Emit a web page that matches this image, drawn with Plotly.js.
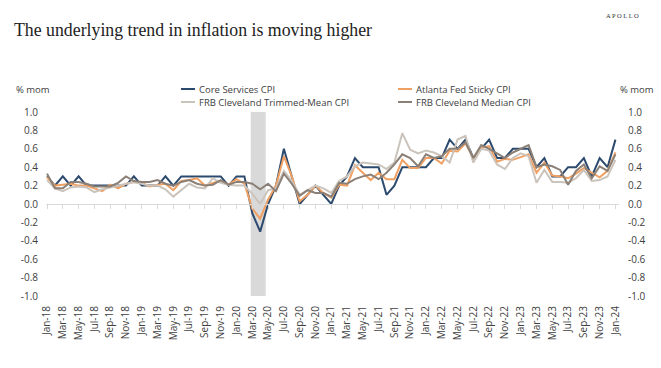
<!DOCTYPE html>
<html>
<head>
<meta charset="utf-8">
<script src="https://cdn.plot.ly/plotly-3.0.1.min.js"></script>
<style>html,body{margin:0;padding:0;background:#fff;}#chart{width:661px;height:368px;}</style>
</head>
<body>
<div id="chart"></div>
<script>
// ---- data ----
const months = ['Jan','Feb','Mar','Apr','May','Jun','Jul','Aug','Sep','Oct','Nov','Dec'];
const categories = [];
for (let yr = 18; yr <= 24; yr++) {
  for (let m = 0; m < 12; m++) {
    if (yr === 24 && m > 0) break;
    categories.push(months[m] + '-' + yr);
  }
}
const seriesNames = ['Core Services CPI', 'Atlanta Fed Sticky CPI', 'FRB Cleveland Trimmed-Mean CPI', 'FRB Cleveland Median CPI'];
const coreServices = [
  0.3,0.2,0.3,0.2,0.3,0.2,0.2,0.2,0.2,0.2,0.2,0.3,
  0.2,0.2,0.2,0.3,0.2,0.3,0.3,0.3,0.3,0.3,0.3,0.2,
  0.3,0.3,-0.1,-0.3,0.0,0.2,0.6,0.3,0.0,0.1,0.2,0.1,
  0.0,0.2,0.3,0.5,0.4,0.4,0.4,0.1,0.2,0.4,0.4,0.4,
  0.4,0.5,0.5,0.7,0.6,0.7,0.5,0.6,0.7,0.5,0.5,0.6,
  0.6,0.6,0.4,0.5,0.3,0.3,0.4,0.4,0.5,0.3,0.5,0.4,
  0.7
];
const atlantaSticky = [
  0.29,0.20,0.21,0.22,0.20,0.20,0.17,0.14,0.21,0.17,0.22,0.24,
  0.23,0.19,0.21,0.22,0.15,0.25,0.26,0.28,0.20,0.23,0.25,0.21,
  0.27,0.22,-0.05,-0.16,0.05,0.20,0.52,0.30,0.03,0.10,0.20,0.12,
  0.07,0.21,0.20,0.42,0.34,0.26,0.34,0.27,0.27,0.48,0.39,0.39,
  0.50,0.50,0.44,0.58,0.57,0.66,0.50,0.61,0.63,0.46,0.49,0.48,
  0.51,0.54,0.34,0.45,0.31,0.30,0.28,0.33,0.39,0.34,0.29,0.36,
  0.56
];
const trimmedMean = [
  0.26,0.17,0.14,0.18,0.19,0.18,0.13,0.16,0.18,0.20,0.22,0.24,
  0.22,0.20,0.20,0.16,0.08,0.15,0.22,0.18,0.17,0.28,0.23,0.21,
  0.20,0.20,0.11,0.00,0.15,0.17,0.36,0.25,0.10,0.15,0.20,0.17,
  0.12,0.25,0.30,0.41,0.45,0.44,0.43,0.38,0.45,0.77,0.59,0.55,
  0.58,0.56,0.52,0.45,0.70,0.74,0.45,0.60,0.58,0.43,0.38,0.50,
  0.55,0.52,0.23,0.37,0.24,0.24,0.23,0.28,0.37,0.25,0.26,0.30,
  0.48
];
const median = [
  0.33,0.17,0.17,0.24,0.24,0.22,0.19,0.19,0.19,0.23,0.30,0.25,
  0.24,0.24,0.26,0.22,0.20,0.24,0.26,0.22,0.20,0.21,0.26,0.21,
  0.24,0.24,0.22,0.16,0.22,0.14,0.33,0.22,0.09,0.15,0.12,0.12,
  0.08,0.23,0.22,0.27,0.30,0.32,0.27,0.34,0.43,0.54,0.50,0.41,
  0.54,0.50,0.52,0.60,0.60,0.67,0.50,0.64,0.60,0.55,0.50,0.56,
  0.60,0.64,0.40,0.43,0.41,0.37,0.21,0.36,0.43,0.28,0.41,0.36,
  0.54
];
const recession = ['Mar-20', 'Apr-20'];
const yTickVals = [1.0,0.8,0.6,0.4,0.2,0.0,-0.2,-0.4,-0.6,-0.8,-1.0];
const yTickText = yTickVals.map(v => v.toFixed(1));
const xTickVals = categories.filter((c, i) => i % 2 === 0);

// ---- styling ----
const colors = ['#2C4A6E', '#EFA062', '#CBC4BC', '#8B8077'];
const allSeries = [coreServices, atlantaSticky, trimmedMean, median];
const tickFont = {family: 'Open Sans, sans-serif', size: 10, color: '#404040'};

const W = 661, H = 368;
const margin = {l: 46, r: 42, t: 112, b: 72};
const plotW = W - margin.l - margin.r, plotH = H - margin.t - margin.b;
const px2x = px => (px - margin.l) / plotW;
const py2y = py => (H - margin.b - py) / plotH;

const traces = allSeries.map((s, i) => ({
  type: 'scatter', mode: 'lines', x: categories, y: s, name: seriesNames[i],
  xaxis: 'x', yaxis: 'y',
  line: {color: colors[i], width: 2}, hoverinfo: 'skip', showlegend: false
}));
// invisible carrier trace so the label axes (bottom x, right y) are drawn with the categories
traces.unshift({
  type: 'scatter', mode: 'lines', x: categories, y: coreServices, xaxis: 'x2', yaxis: 'y2',
  line: {width: 0, color: 'rgba(0,0,0,0)'}, opacity: 0, hoverinfo: 'skip', showlegend: false
});

const xRange = [-0.13, categories.length - 1 + 0.45];

const shapes = [{
  type: 'rect', xref: 'x', yref: 'y', layer: 'below',
  x0: categories.indexOf(recession[0]) - 0.2, x1: categories.indexOf(recession[1]) + 0.7,
  y0: -1, y1: 1, fillcolor: '#D9D9D9', line: {width: 0}
}];
const annotations = [];
// legend (manual, two columns)
const legendCols = [181, 398], legendRows = [89, 102];
seriesNames.forEach((nm, i) => {
  const cx = legendCols[i % 2], cy = legendRows[Math.floor(i / 2)];
  shapes.push({type: 'line', xref: 'paper', yref: 'paper',
    x0: px2x(cx), x1: px2x(cx + 14), y0: py2y(cy), y1: py2y(cy),
    line: {color: colors[i], width: 2}});
  annotations.push({xref: 'paper', yref: 'paper', x: px2x(cx + 16), y: py2y(cy),
    xanchor: 'left', yanchor: 'middle', showarrow: false, text: nm, font: {...tickFont, size: 9.5}});
});
annotations.push({xref: 'paper', yref: 'paper', x: px2x(14), y: py2y(89), xanchor: 'left', yanchor: 'middle',
  showarrow: false, text: '% mom', font: {...tickFont, size: 9.5}});
annotations.push({xref: 'paper', yref: 'paper', x: px2x(618), y: py2y(89), xanchor: 'left', yanchor: 'middle',
  showarrow: false, text: '% mom', font: {...tickFont, size: 9.5}});
annotations.push({xref: 'paper', yref: 'paper', x: px2x(641), y: py2y(16), xanchor: 'right', yanchor: 'middle',
  showarrow: false, text: 'A P O L L O', font: {family: 'Liberation Serif, serif', size: 6.5, color: '#333'}});

const layout = {
  width: W, height: H, margin: margin,
  paper_bgcolor: '#fff', plot_bgcolor: '#fff', showlegend: false,
  title: {text: 'The underlying trend in inflation is moving higher',
    font: {family: 'Liberation Serif, serif', size: 17.8, color: '#222'},
    x: 14 / W, xref: 'container', xanchor: 'left', y: 1 - 30 / H, yref: 'container', yanchor: 'middle'},
  xaxis: {type: 'category', range: xRange, anchor: 'free', position: 0.5,
    showline: true, linecolor: '#D9D9D9', linewidth: 1, ticks: 'outside', ticklen: 4, tickcolor: '#D9D9D9',
    tickvals: xTickVals, showticklabels: false, showgrid: false, zeroline: false, fixedrange: true},
  xaxis2: {type: 'category', range: xRange, overlaying: 'x', anchor: 'y', side: 'bottom',
    showline: false, ticks: '', tickvals: xTickVals, ticktext: xTickVals, tickangle: -90,
    tickfont: tickFont, ticklabelstandoff: 7, showgrid: false, zeroline: false},
  yaxis: {range: [-1, 1], tickvals: yTickVals, ticktext: yTickText, tickfont: tickFont,
    showgrid: false, zeroline: false, showline: false, ticks: '', ticklabelstandoff: 7},
  yaxis2: {range: [-1, 1], overlaying: 'y', side: 'right', anchor: 'x2', tickvals: yTickVals, ticktext: yTickText,
    tickfont: tickFont, showgrid: false, zeroline: false, showline: false, ticks: '', ticklabelstandoff: 8},
  shapes: shapes, annotations: annotations
};

Plotly.newPlot('chart', traces, layout, {staticPlot: true, displayModeBar: false});
</script>
</body>
</html>
